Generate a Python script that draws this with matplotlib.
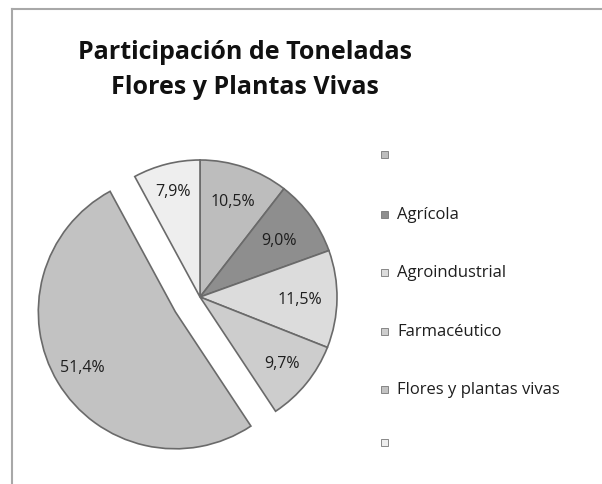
import numpy as np
import matplotlib
matplotlib.use("Agg")
import matplotlib.pyplot as plt
from matplotlib.lines import Line2D
from matplotlib.patches import Rectangle

title_lines = ["Participación de Toneladas", "Flores y Plantas Vivas"]
categories = ["", "Agrícola", "Agroindustrial", "Farmacéutico", "Flores y plantas vivas", ""]
shares = [10.5, 9.0, 11.5, 9.7, 51.4, 7.9]
slice_labels = ["10,5%", "9,0%", "11,5%", "9,7%", "51,4%", "7,9%"]

colors = ["#bdbdbd", "#8e8e8e", "#dcdcdc", "#cdcdcd", "#c2c2c2", "#eeeeee"]
explode = [0, 0, 0, 0, 0.21, 0]
label_r = [0.74, 0.71, 0.73, 0.77, 0.79, 0.80]

plt.rcParams['font.family'] = ['Open Sans', 'DejaVu Sans']

W, H = 602, 485
fig = plt.figure(figsize=(W / 100, H / 100), dpi=100)
fig.patch.set_facecolor("white")

# chart-area border (top and left visible)
fig.add_artist(Line2D([11.5 / W, 1], [1 - 9.5 / H, 1 - 9.5 / H], color="#a8a8a8", lw=1.5))
fig.add_artist(Line2D([11.5 / W, 11.5 / W], [0, 1 - 9.5 / H], color="#a8a8a8", lw=1.5))

R = 137
cx, cy = 200, H - 298
side = 2.6 * R
ax = fig.add_axes([(cx - side / 2) / W, (cy - side / 2) / H, side / W, side / H])
wedges, _ = ax.pie(shares, colors=colors, explode=explode, startangle=90, counterclock=False,
                   wedgeprops=dict(edgecolor="#6a6a6a", linewidth=1.2))
ax.set_xlim(-1.3, 1.3)
ax.set_ylim(-1.3, 1.3)
ax.set_aspect("equal")
ax.axis("off")

for w, lab, rr in zip(wedges, slice_labels, label_r):
    ang = np.deg2rad((w.theta1 + w.theta2) / 2)
    c = w.center
    ax.text(c[0] + rr * np.cos(ang), c[1] + rr * np.sin(ang), lab, ha="center", va="center",
            fontsize=11.5, color="#1e1e1e", fontweight="medium")

fig.text(245 / W, 1 - 70 / H, "\n".join(title_lines), ha="center", va="center",
         fontsize=18, fontweight="bold", color="#111111", linespacing=1.55)

# legend
leg_y = [155, 215, 273, 332, 390, 443]
for cat, col, y in zip(categories, colors, leg_y):
    fig.patches.append(Rectangle((381 / W, 1 - (y + 3.5) / H), 7 / W, 7 / H,
                                 transform=fig.transFigure, facecolor=col,
                                 edgecolor="#777777", lw=0.6))
    fig.text(397 / W, 1 - y / H, cat, ha="left", va="center", fontsize=12, color="#1e1e1e")

fig.savefig("out.png", dpi=100)
